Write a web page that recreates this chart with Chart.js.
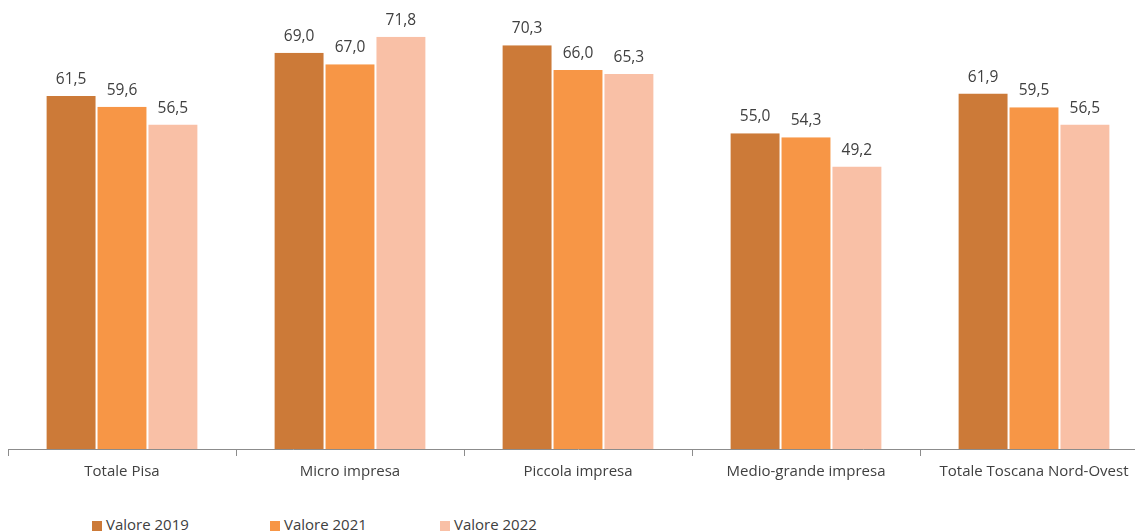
<!DOCTYPE html>
<html>
<head>
<meta charset="utf-8">
<script src="https://cdn.jsdelivr.net/npm/chart.js@4.4.1/dist/chart.umd.min.js"></script>
<style>
  html, body { margin: 0; padding: 0; background: #fff; overflow: hidden; }
  body { width: 1135px; height: 532px; position: relative; font-family: "Open Sans", sans-serif; }
  #wrap { position: absolute; left: 0; top: 0; width: 1150px; height: 500px; }
  #legend { position: absolute; left: 92px; top: 515px; height: 18px; font-size: 15px; color: #404040; }
  #legend .item { position: absolute; top: 0; white-space: nowrap; line-height: 18px; }
  #legend .box { display: inline-block; width: 10px; height: 10px; margin-right: 4px; vertical-align: -1px; }
</style>
</head>
<body>
<div id="wrap"><canvas id="chart"></canvas></div>
<div id="legend"></div>
<script>
// categories and series
const categories = ["Totale Pisa", "Micro impresa", "Piccola impresa", "Medio-grande impresa", "Totale Toscana Nord-Ovest"];
const seriesNames = ["Valore 2019", "Valore 2021", "Valore 2022"];
const values2019 = [61.5, 69.0, 70.3, 55.0, 61.9];
const values2021 = [59.6, 67.0, 66.0, 54.3, 59.5];
const values2022 = [56.5, 71.8, 65.3, 49.2, 56.5];
const seriesColors = ["#CC7A38", "#F79646", "#F9C0A6"];

const fontFamily = "'Open Sans', sans-serif";
const textColor = "#404040";
const axisColor = "#8c8c8c";

// draws the value above each bar, using the bar positions from the library
const valueLabels = {
  id: "valueLabels",
  afterDatasetsDraw(chart) {
    const ctx = chart.ctx;
    ctx.save();
    ctx.font = "15.5px " + fontFamily;
    ctx.fillStyle = textColor;
    ctx.textAlign = "center";
    ctx.textBaseline = "alphabetic";
    chart.data.datasets.forEach((ds, i) => {
      const meta = chart.getDatasetMeta(i);
      meta.data.forEach((bar, j) => {
        const v = ds.data[j];
        ctx.fillText(v.toFixed(1).replace(".", ","), bar.x, bar.y - 12);
      });
    });
    ctx.restore();
  }
};

const chart = new Chart(document.getElementById("chart"), {
  type: "bar",
  data: {
    labels: categories,
    datasets: [values2019, values2021, values2022].map((data, i) => ({
      label: seriesNames[i],
      data,
      backgroundColor: seriesColors[i],
      borderColor: "rgba(255,255,255,0.7)",
      borderWidth: { left: 1, right: 1, top: 0, bottom: 0 },
      categoryPercentage: 0.67,
      barPercentage: 1.0,
    })),
  },
  options: {
    responsive: true,
    maintainAspectRatio: false,
    animation: false,
    layout: { padding: { left: 8, right: 2, top: 0, bottom: 0 } },
    scales: {
      x: {
        offset: true,
        grid: { display: true, drawOnChartArea: false, drawTicks: true, tickLength: 7, color: axisColor },
        border: { display: true, color: axisColor, width: 1 },
        ticks: { color: textColor, font: { family: fontFamily, size: 15 }, padding: 7, maxRotation: 0 },
        afterFit(scale) { scale.height = 51; },
      },
      y: { display: false, min: 0, max: 78.2 },
    },
    plugins: {
      legend: { display: false },
      tooltip: { enabled: false },
    },
  },
  plugins: [valueLabels],
});

// legend built from the chart's datasets
const legendEl = document.getElementById("legend");
const legendOffsets = [0, 178, 348];
chart.data.datasets.forEach((ds, i) => {
  const item = document.createElement("span");
  item.className = "item";
  item.style.left = legendOffsets[i] + "px";
  item.innerHTML = '<span class="box" style="background:' + ds.backgroundColor + '"></span>' + ds.label;
  legendEl.appendChild(item);
});
</script>
</body>
</html>
